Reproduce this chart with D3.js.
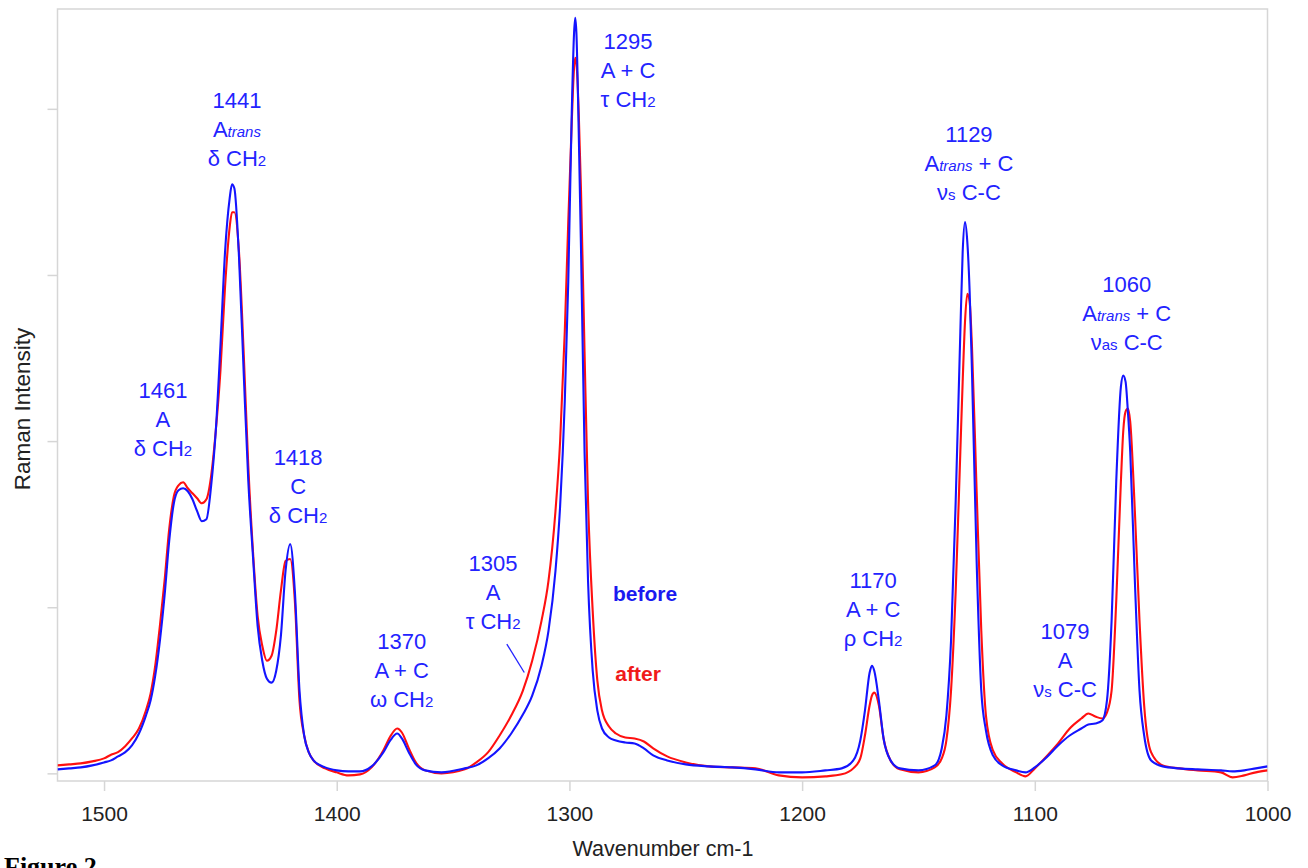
<!DOCTYPE html>
<html>
<head>
<meta charset="utf-8">
<script src="https://cdn.jsdelivr.net/npm/d3@7"></script>
<style>
  html, body { margin: 0; padding: 0; background: #fff; }
  svg { display: block; }
</style>
</head>
<body>
<div id="chart"></div>
<script>
// ---------------- DATA ----------------
const wavenumbers = [
  1520,1515,1510,1505,1500,1497,1494,1491,1488,1485,
  1482,1480,1478,1476,1474,1472,1470,1468,1466,1464,
  1462,1460,1458,1456,1454,1452,1450,1448,1446,1445,
  1444,1442,1440,1438,1436,1434,1432,1430,1428,1426,
  1424,1422,1420,1418,1416,1414,1412,1410,1405,1400,
  1395,1390,1385,1380,1377,1374,1372,1369,1366,1362,
  1355,1345,1340,1335,1330,1325,1320,1316,1312,1309,
  1306,1304,1302,1300.5,1299,1298,1297.5,1297,1296,1295,
  1293.5,1292,1290,1288,1286,1283,1280,1276,1272,1268,
  1264,1258,1250,1240,1230,1220,1210,1200,1190,1183,
  1178,1175,1173,1171,1170,1169,1167,1165,1162,1158,
  1150,1143,1140,1138,1136,1134,1132,1131,1130,1129,
  1128,1127,1125,1123,1121,1118,1114,1108,1104,1100,
  1095,1090,1085,1080,1077,1074,1071,1069,1067,1065,
  1063,1062,1061,1060,1059,1057,1055,1053,1050,1045,
  1038,1030,1020,1015,1010,1005,1000
];
const before = [
  24,30,36,48,66,78,102,126,168,240,
  348,438,588,798,1068,1398,1626,1704,1716,1698,
  1650,1578,1518,1530,1728,2058,2568,3138,3462,3546,
  3522,3108,2418,1758,1308,888,678,570,546,618,
  828,1218,1380,1098,498,228,126,78,36,18,
  12,12,42,126,198,240,210,126,54,18,
  6,30,48,90,150,240,354,468,648,858,
  1218,1608,2238,2958,3978,4458,4548,4458,3858,3138,
  1938,1158,618,378,270,216,198,186,180,150,
  108,78,54,42,36,24,6,6,18,30,
  78,198,378,606,648,618,438,210,78,30,
  18,48,150,348,798,1638,2658,3138,3318,3198,
  2898,2418,1278,498,258,108,48,18,6,36,
  96,168,228,270,294,300,318,438,918,1758,
  2328,2394,2358,2178,1938,1158,498,228,78,42,
  30,24,18,12,18,30,42
];
const after = [
  48,54,60,72,90,112,128,162,210,270,
  378,480,648,888,1158,1470,1668,1734,1752,1716,
  1686,1656,1626,1650,1788,2058,2418,2928,3288,3378,
  3378,3138,2538,1848,1338,948,768,678,708,858,
  1098,1278,1290,1038,438,228,126,78,30,6,
  -12,-6,36,138,222,270,246,150,66,18,
  0,24,66,126,228,348,498,678,918,1158,
  1578,1998,2658,3318,3918,4248,4308,4278,3978,3498,
  2538,1638,978,558,378,282,240,216,210,192,
  150,102,66,42,36,30,-12,-24,-18,-6,
  30,90,228,408,468,486,408,210,78,24,
  6,36,90,198,498,1098,1938,2358,2718,2886,
  2838,2568,1698,858,348,138,60,6,-18,30,
  102,180,270,330,360,342,330,366,498,1038,
  1758,2058,2178,2196,2118,1578,918,408,126,48,
  30,18,6,-24,-12,6,18
];
const xTicks = [1500, 1400, 1300, 1200, 1100, 1000];
const yTicks = [0, 1000, 2000, 3000, 4000];
const seriesNames = ["before", "after"];

// peak annotations: anchor (wavenumber, intensity) of first line baseline
const peakIds   = ["1461","1441","1418","1370","1305","1295","1170","1129","1079","1060"];
const peakAnchorWn = [1474.7,1442.9,1416.6,1372.1,1332.8,1274.8,1169.5,1128.3,1087,1060.5];
const peakAnchorV  = [2259,4006,1856,748,1218,4360,1116,3800,809,2898];
const peakAssign = ["A","A~{trans}","C","A + C","A","A + C","A + C","A~{trans} + C","A","A~{trans} + C"];
const peakMode   = ["δ CH_{2}","δ CH_{2}","δ CH_{2}","ω CH_{2}","τ CH_{2}","τ CH_{2}","ρ CH_{2}","ν_{s} C-C","ν_{s} C-C","ν_{as} C-C"];

// ---------------- LAYOUT ----------------
const W = 1308, H = 868;
const plot = { left: 57.5, right: 1267.5, top: 9, bottom: 781 };
const BLUE = "#1414ff", RED = "#ff1010", LABEL = "#2323ff";
const FONT = "'Liberation Sans', Arial, Helvetica, sans-serif";

const svg = d3.select("#chart").append("svg")
  .attr("width", W).attr("height", H)
  .style("font-family", FONT);

const x = d3.scaleLinear().domain([1520, 1000]).range([plot.left, plot.right]);
const y = d3.scaleLinear().domain([-46, 4601]).range([plot.bottom, plot.top]);

// frame
svg.append("rect")
  .attr("x", plot.left).attr("y", plot.top)
  .attr("width", plot.right - plot.left).attr("height", plot.bottom - plot.top)
  .attr("fill", "none").attr("stroke", "#d6d6d6").attr("stroke-width", 1.5);

// x axis
const xAxis = svg.append("g")
  .attr("transform", `translate(0,${plot.bottom})`)
  .call(d3.axisBottom(x).tickValues(xTicks).tickFormat(d3.format("d"))
        .tickSize(10).tickSizeOuter(0).tickPadding(15));
xAxis.select(".domain").remove();
xAxis.selectAll(".tick line").attr("stroke", "#d6d6d6").attr("stroke-width", 1.5);
xAxis.selectAll(".tick text")
  .attr("font-size", 21).attr("fill", "#222").attr("font-family", FONT);

// y axis (ticks only, no labels)
const yAxis = svg.append("g")
  .attr("transform", `translate(${plot.left},0)`)
  .call(d3.axisLeft(y).tickValues(yTicks).tickFormat("").tickSize(10).tickSizeOuter(0));
yAxis.select(".domain").remove();
yAxis.selectAll(".tick text").remove();
yAxis.selectAll(".tick line").attr("stroke", "#d6d6d6").attr("stroke-width", 1.5);

// axis titles
svg.append("text")
  .attr("x", 663).attr("y", 856)
  .attr("text-anchor", "middle").attr("font-size", 21.5).attr("fill", "#222")
  .text("Wavenumber cm-1");
svg.append("text")
  .attr("transform", "translate(30,409) rotate(-90)")
  .attr("text-anchor", "middle").attr("font-size", 22.5).attr("fill", "#222")
  .text("Raman Intensity");

// lines
const line = d3.line()
  .x((d, i) => x(wavenumbers[i]))
  .y(d => y(d))
  .curve(d3.curveMonotoneX);

svg.append("clipPath").attr("id", "clip")
  .append("rect").attr("x", plot.left).attr("y", plot.top - 2)
  .attr("width", plot.right - plot.left).attr("height", plot.bottom - plot.top + 2);

const lines = svg.append("g").attr("clip-path", "url(#clip)");
lines.append("path").datum(after)
  .attr("d", line).attr("fill", "none").attr("stroke", RED)
  .attr("stroke-width", 2.1).attr("stroke-linejoin", "round");
lines.append("path").datum(before)
  .attr("d", line).attr("fill", "none").attr("stroke", BLUE)
  .attr("stroke-width", 2.1).attr("stroke-linejoin", "round");

// annotations
function richLine(sel, str) {
  const parts = str.split(/(_\{[^}]*\}|~\{[^}]*\})/).filter(s => s.length);
  parts.forEach(p => {
    if (p.startsWith("_{")) {
      sel.append("tspan").attr("font-size", 15).text(p.slice(2, -1));
    } else if (p.startsWith("~{")) {
      sel.append("tspan").attr("font-size", 15).attr("font-style", "italic").text(p.slice(2, -1));
    } else {
      sel.append("tspan").attr("font-size", 22).text(p);
    }
  });
}

const LH = 29;
const ann = svg.append("g").attr("fill", LABEL).attr("font-size", 22);
peakIds.forEach((id, i) => {
  const cx = x(peakAnchorWn[i]), by = y(peakAnchorV[i]);
  [id, peakAssign[i], peakMode[i]].forEach((s, k) => {
    const t = ann.append("text").attr("x", cx).attr("y", by + k * LH)
      .attr("text-anchor", "middle").attr("font-size", 22);
    richLine(t, s);
  });
});

// leader line for 1305
svg.append("line")
  .attr("x1", x(1326.9)).attr("y1", y(778))
  .attr("x2", x(1319.4)).attr("y2", y(607))
  .attr("stroke", LABEL).attr("stroke-width", 1.3);

// series labels
svg.append("text").attr("x", x(1267.5)).attr("y", y(1037))
  .attr("text-anchor", "middle").attr("font-size", 21).attr("font-weight", "bold")
  .attr("fill", "#1a1af0").text(seriesNames[0]);
svg.append("text").attr("x", x(1270.5)).attr("y", y(556))
  .attr("text-anchor", "middle").attr("font-size", 21).attr("font-weight", "bold")
  .attr("fill", "#f01a1a").text(seriesNames[1]);

// figure caption (cut by page edge, as in the reference)
svg.append("text").attr("x", 4).attr("y", 875)
  .attr("font-family", "'Liberation Serif', 'Times New Roman', serif")
  .attr("font-weight", "bold").attr("font-size", 26).attr("fill", "#000")
  .text("Figure 2.");
</script>
</body>
</html>
